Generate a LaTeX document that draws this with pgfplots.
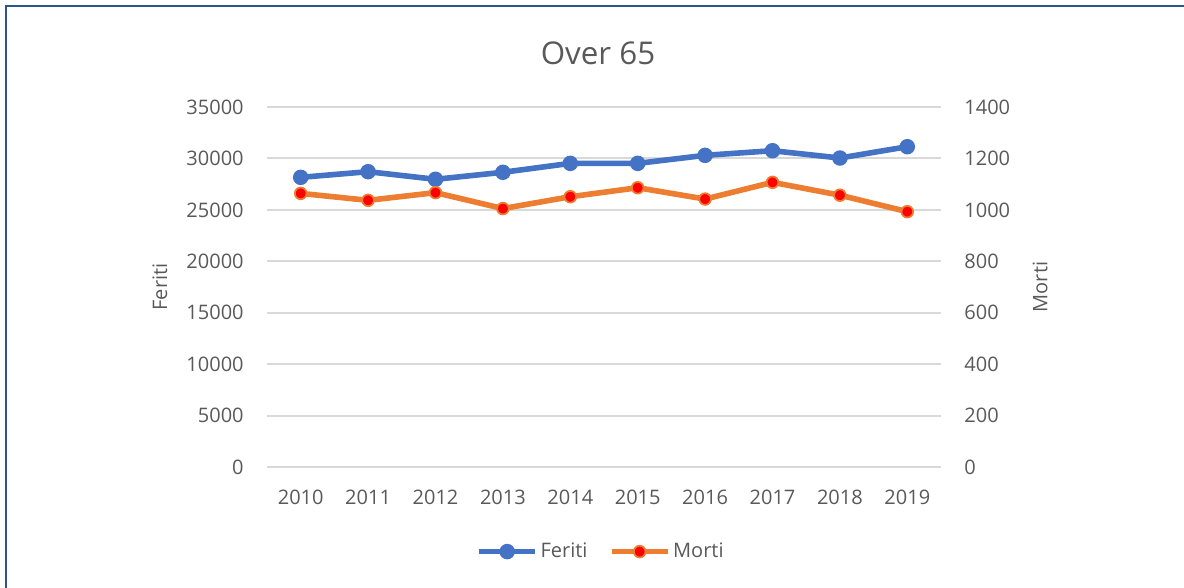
\documentclass[border=0pt]{standalone}
\usepackage{pgfplots}
\pgfplotsset{compat=1.18}
\usepackage{fontspec}
\setmainfont{Open Sans}
\definecolor{txt}{HTML}{595959}
\definecolor{gridc}{HTML}{D9D9D9}
\definecolor{blu}{HTML}{4472C4}
\definecolor{ora}{HTML}{ED7D31}
\definecolor{bord}{HTML}{2E5490}
\pgfplotstableread{
x val
0 28160
1 28710
2 27970
3 28650
4 29520
5 29520
6 30300
7 30750
8 30040
9 31140
}\feriti
\pgfplotstableread{
x val
0 1064
1 1037
2 1067
3 1005
4 1051
5 1086
6 1042
7 1107
8 1057
9 993
}\morti
\begin{document}
\begin{tikzpicture}[x=0.75pt,y=0.75pt]
\useasboundingbox (0,0) rectangle (1184,588);
\draw[bord,line width=1.5pt] (6,-2) -- (6,582) -- (1186,582);
\node[txt,font=\fontsize{23.5}{28}\selectfont] at (598,535) {Over 65};
\begin{axis}[
  at={(200.25pt,90.75pt)}, anchor=south west,
  width=505.5pt, height=270pt, scale only axis,
  xmin=-0.5, xmax=9.5, ymin=0, ymax=35000,
  xtick={0,...,9},
  xticklabels={2010,2011,2012,2013,2014,2015,2016,2017,2018,2019},
  ytick={0,5000,...,35000},
  scaled y ticks=false,
  axis line style={draw=none},
  major tick length=0,
  ymajorgrids, xmajorgrids=false, grid style={gridc, line width=1.5pt},
  tick label style={txt, font=\fontsize{15}{18}\selectfont},
  /pgf/number format/assume math mode=true,
  /pgf/number format/1000 sep={},
  yticklabel style={anchor=east, xshift=-14pt},
  xticklabel style={anchor=north, yshift=-14pt},
  ylabel={Feriti},
  ylabel style={txt, font=\fontsize{15}{18}\selectfont, at={(axis description cs:-0.159,0.5)}, anchor=center, rotate=0},
  legend style={at={(axis description cs:0.496,-0.235)}, anchor=center, draw=none, fill=none,
    legend columns=2, font=\fontsize{15}{18}\selectfont, text=txt,
    /tikz/every even column/.append style={column sep=14pt}},
  legend image code/.code={\draw[#1,mark=none] (0pt,0pt) -- (42pt,0pt); \draw[#1] plot coordinates {(21pt,0pt)};},
  clip=false,
]
\addplot[blu, line width=4.2pt, mark=*, mark size=4.8pt, mark options={fill=blu, draw=blu, line width=2pt}]
  table[x=x,y=val] {\feriti};
\addlegendentry{Feriti}
\addlegendimage{ora, line width=4.2pt, mark=*, mark size=4.4pt, mark options={fill=red, draw=ora, line width=1.3pt}}
\addlegendentry{Morti}
\end{axis}
\begin{axis}[
  at={(200.25pt,90.75pt)}, anchor=south west,
  width=505.5pt, height=270pt, scale only axis,
  xmin=-0.5, xmax=9.5, ymin=0, ymax=1400,
  axis y line*=right,
  axis x line=none,
  ytick={0,200,...,1400},
  scaled y ticks=false,
  axis line style={draw=none},
  major tick length=0,
  tick label style={txt, font=\fontsize{15}{18}\selectfont},
  /pgf/number format/assume math mode=true,
  /pgf/number format/1000 sep={},
  yticklabel style={anchor=west, xshift=14pt},
  ylabel={Morti},
  ylabel style={txt, font=\fontsize{15}{18}\selectfont, at={(axis description cs:1.147,0.5)}, anchor=center, rotate=0},
  clip=false,
]
\addplot[ora, line width=4.2pt, mark=*, mark size=4.4pt, mark options={fill=red, draw=ora, line width=1.3pt}]
  table[x=x,y=val] {\morti};
\end{axis}
\end{tikzpicture}
\end{document}
